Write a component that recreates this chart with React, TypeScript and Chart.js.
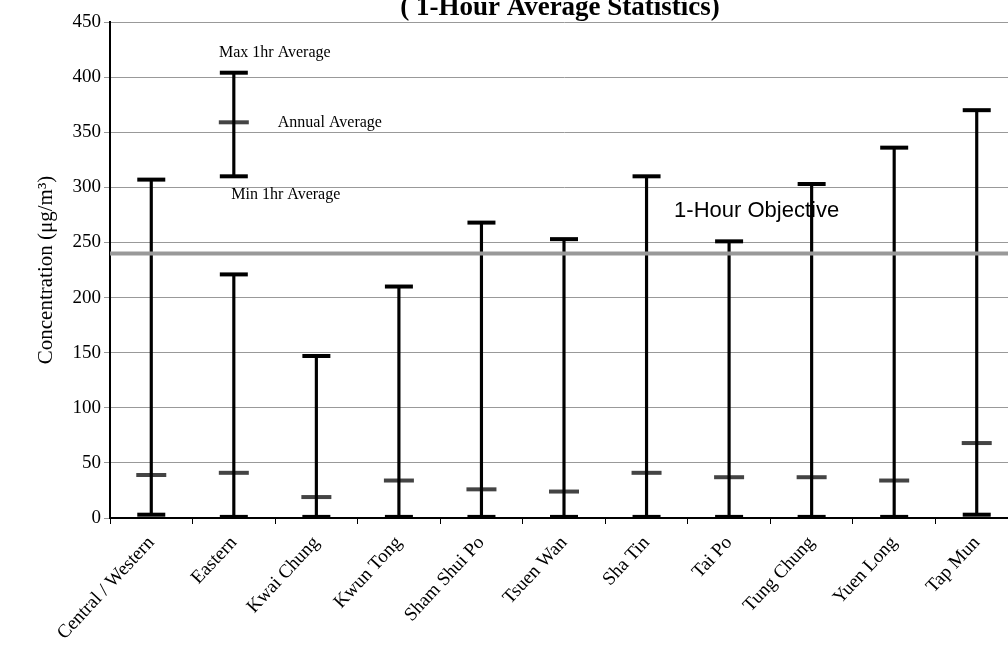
import React, { useEffect, useRef } from "react";
import { Chart, registerables } from "chart.js";
Chart.register(...registerables);

const categories = ["Central / Western", "Eastern", "Kwai Chung", "Kwun Tong", "Sham Shui Po", "Tsuen Wan", "Sha Tin", "Tai Po", "Tung Chung", "Yuen Long", "Tap Mun"];
const maxValues = [307, 221, 147, 210, 268, 253, 310, 251, 303, 336, 370];
const annualValues = [39, 41, 19, 34, 26, 24, 41, 37, 37, 34, 68];
const minValues = [3, 1, 1, 1, 1, 1, 1, 1, 1, 1, 3];
const legendIndex = 1;
const legendMax = 404;
const legendAnnual = 359;
const legendMin = 310;
const objective = 240;
const yTicks = [0, 50, 100, 150, 200, 250, 300, 350, 400, 450];

const only = (v: number) => categories.map((_, i) => (i === legendIndex ? v : null));

const serif = "'Liberation Serif', 'DejaVu Serif', serif";

const textPlugin = {
  id: "texts",
  afterDatasetsDraw(chart: any) {
    const { ctx, scales } = chart;
    const x = scales.x, y = scales.y;
    ctx.save();
    ctx.strokeStyle = "#999999";
    ctx.lineWidth = 4;
    ctx.beginPath();
    ctx.moveTo(chart.chartArea.left, y.getPixelForValue(objective));
    ctx.lineTo(chart.chartArea.right, y.getPixelForValue(objective));
    ctx.stroke();
    ctx.fillStyle = "#000";
    ctx.textBaseline = "middle";
    ctx.font = "22px 'Liberation Sans', Arial, sans-serif";
    ctx.textAlign = "left";
    ctx.fillText("1-Hour Objective", x.getPixelForValue(7) - 55, y.getPixelForValue(279));
    ctx.font = `16px ${serif}`;
    const lx = x.getPixelForValue(legendIndex);
    ctx.textAlign = "center";
    ctx.fillText("Max 1hr Average", lx + 41, y.getPixelForValue(422));
    ctx.fillText("Min 1hr Average", lx + 52, y.getPixelForValue(293));
    ctx.textAlign = "left";
    ctx.fillText("Annual Average", lx + 44, y.getPixelForValue(359));
    ctx.font = `bold 27px ${serif}`;
    ctx.textAlign = "center";
    ctx.textBaseline = "alphabetic";
    ctx.fillText("( 1-Hour Average Statistics)", 560, 15);
    ctx.restore();
  },
};

export default function App() {
  const ref = useRef<HTMLCanvasElement>(null);
  useEffect(() => {
    document.documentElement.style.overflow = "hidden";
    document.body.style.margin = "0";
    const capMax = { type: "line" as const, showLine: false, pointStyle: "line", pointRadius: 14, pointBorderWidth: 4, borderColor: "#000", backgroundColor: "#000" };
    const capAvg = { type: "line" as const, showLine: false, pointStyle: "line", pointRadius: 15, pointBorderWidth: 4, borderColor: "#444", backgroundColor: "#444" };
    const chart = new Chart(ref.current!, {
      type: "bar",
      data: {
        labels: categories,
        datasets: [
          { type: "bar", data: categories.map((_, i) => [minValues[i], maxValues[i]]) as any, backgroundColor: "#000", barThickness: 2.5, grouped: false } as any,
          { type: "bar", data: categories.map((_, i) => (i === legendIndex ? [legendMin, legendMax] : null)) as any, backgroundColor: "#000", barThickness: 2.5, grouped: false } as any,
          { ...capMax, data: maxValues },
          { ...capMax, data: minValues },
          { ...capAvg, data: annualValues },
          { ...capMax, data: only(legendMax) },
          { ...capMax, data: only(legendMin) },
          { ...capAvg, data: only(legendAnnual) },
        ],
      },
      options: {
        animation: false,
        responsive: false,
        layout: { padding: { top: 22, right: 8, left: 0, bottom: 0 } },
        plugins: { legend: { display: false }, tooltip: { enabled: false } },
        scales: {
          x: {
            offset: true,
            afterFit: (s: any) => { s.height = 149; },
            grid: { offset: true, drawOnChartArea: false, color: "#000", tickLength: 6 },
            border: { color: "#000", width: 2 },
            ticks: { maxRotation: 47, minRotation: 47, color: "#000", font: { family: serif, size: 19 }, autoSkip: false, padding: 8 },
          },
          y: {
            min: 0, max: 450,
            afterFit: (s: any) => { s.width = 110; },
            afterBuildTicks: (s: any) => { s.ticks = yTicks.map((v) => ({ value: v })); },
            grid: { color: "#999", drawTicks: true, tickLength: 6 },
            border: { color: "#000", width: 2 },
            ticks: { color: "#000", font: { family: serif, size: 19 } },
            title: { display: true, text: "Concentration (μg/m³)", color: "#000", font: { family: serif, size: 21 }, padding: { top: 34, bottom: 8 } },
          },
        },
      },
      plugins: [textPlugin],
    });
    return () => chart.destroy();
  }, []);
  return <canvas ref={ref} width={1037} height={667} style={{ display: "block" }} />;
}
